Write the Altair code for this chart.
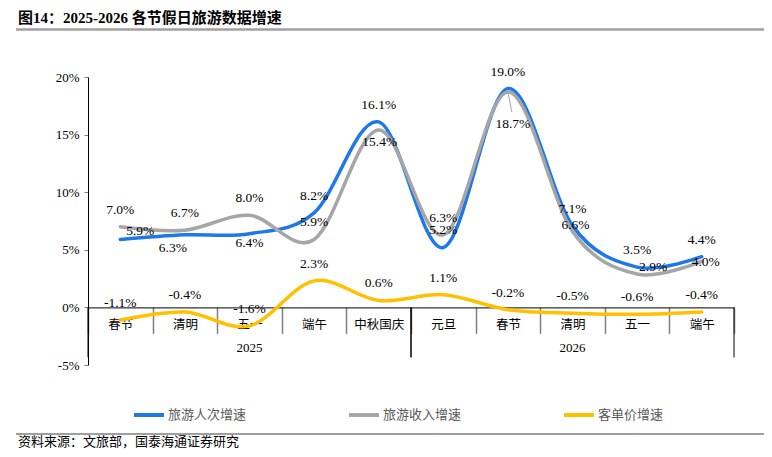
import altair as alt
import pandas as pd

# ---- data ----
years = ["2025", "2026"]
cats_2025 = ["春节", "清明", "五一", "端午", "中秋国庆"]
cats_2026 = ["元旦", "春节", "清明", "五一", "端午"]
series_names = ["旅游人次增速", "旅游收入增速", "客单价增速"]
trips = [5.9, 6.3, 6.4, 8.2, 16.1, 5.2, 19.0, 7.1, 3.5, 4.4]
revenue = [7.0, 6.7, 8.0, 5.9, 15.4, 6.3, 18.7, 6.6, 2.9, 4.0]
per_cap = [-1.1, -0.4, -1.6, 2.3, 0.6, 1.1, -0.2, -0.5, -0.6, -0.4]
y_ticks = [-5, 0, 5, 10, 15, 20]
title_text = "图14：2025-2026 各节假日旅游数据增速"
source_text = "资料来源：文旅部，国泰海通证券研究"

colors = ["#1E78E6", "#A6A6A6", "#FFC000"]
NUM_FONT = "Liberation Serif, Noto Sans CJK SC"
CJK_FONT = "Liberation Serif, Noto Sans CJK SC"

groups = {"2025": cats_2025, "2026": cats_2026}
keys = [y + c for y in years for c in groups[y]]

W, H = 646, 288
PX = H / (y_ticks[-1] - y_ticks[0])  # pixels per percentage point

rows = []
for s, vals in zip(series_names, [trips, revenue, per_cap]):
    for i, (k, v) in enumerate(zip(keys, vals)):
        rows.append({"key": k, "series": s, "value": v, "idx": i,
                     "label": f"{v:.1f}%"})
df = pd.DataFrame(rows)

xscale = alt.Scale(type="band", domain=keys, paddingInner=0, paddingOuter=0)
yscale = alt.Scale(domain=[y_ticks[0], y_ticks[-1]], nice=False, zero=False)
cscale = alt.Scale(domain=series_names, range=colors)

legend = alt.Legend(
    title=None, orient="none", legendX=44, legendY=321, direction="horizontal",
    symbolType="stroke", symbolSize=900, symbolStrokeWidth=4,
    labelFont=CJK_FONT, labelFontSize=13, labelColor="#595959",
    labelOffset=2, columnPadding=94, padding=0, labelLimit=200,
)

xaxis = alt.Axis(
    title=None, orient="bottom", offset=-(H * (0 - y_ticks[0]) / (y_ticks[-1] - y_ticks[0])),
    domainColor="black", domainWidth=1, tickBand="extent", tickSize=26,
    tickColor="#7F7F7F", tickWidth=1.5, labelAngle=0, labelPadding=-15,
    labelFont=CJK_FONT, labelFontSize=12.5, labelColor="black",
    labelExpr="substring(datum.label, 4)", grid=False,
)
yaxis = alt.Axis(
    title=None, values=y_ticks, labelExpr="datum.value + '%'",
    domainColor="black", domainWidth=1, tickColor="#7F7F7F", tickSize=4,
    labelFont=NUM_FONT, labelFontSize=13, labelColor="black",
    labelPadding=5, grid=False,
)

layers = []
for s in series_names:
    layers.append(
        alt.Chart(df[df.series == s]).mark_line(
            interpolate="cardinal", strokeWidth=3.5, strokeCap="round"
        ).encode(
            x=alt.X("key:N", scale=xscale, axis=xaxis),
            y=alt.Y("value:Q", scale=yscale, axis=yaxis),
            color=alt.Color("series:N", scale=cscale, legend=legend),
        )
    )

# label placement nudges (dx, dy) in pixels; default sits above the point
nudges = {
    (series_names[0], 0): (20, -8),
    (series_names[0], 1): (-12, 13),
    (series_names[0], 2): (0, 9),
    (series_names[1], 4): (1, 12),
    (series_names[1], 6): (5, 32),
    (series_names[1], 7): (3, -6),
    (series_names[1], 8): (16, -7),
    (series_names[1], 9): (4, 1),
}
mask = pd.Series(False, index=df.index)
for (s, i), (dx, dy) in nudges.items():
    m = (df.series == s) & (df.idx == i)
    mask |= m
    layers.append(
        alt.Chart(df[m]).mark_text(
            font=NUM_FONT, fontSize=13.5, color="black", dx=dx, dy=dy,
            baseline="middle"
        ).encode(x=alt.X("key:N", scale=xscale), y=alt.Y("value:Q", scale=yscale),
                 text="label:N")
    )
layers.append(
    alt.Chart(df[~mask]).mark_text(
        font=NUM_FONT, fontSize=13.5, color="black", dy=-17, baseline="middle"
    ).encode(x=alt.X("key:N", scale=xscale), y=alt.Y("value:Q", scale=yscale),
             text="label:N")
)

# leader line for the 18.7% label
lead = df[(df.series == series_names[1]) & (df.idx == 6)].copy()
lead["value2"] = lead["value"] - 20 / PX
layers.append(
    alt.Chart(lead).mark_rule(color="#A6A6A6", strokeWidth=1, x2Offset=4).encode(
        x=alt.X("key:N", scale=xscale), x2="key:N",
        y=alt.Y("value:Q", scale=yscale), y2="value2:Q",
    )
)

# multi-level category axis: group dividers and year labels
gdf = pd.DataFrame({
    "year": years,
    "start": [y + groups[y][0] for y in years],
    "end": [y + groups[y][-1] for y in years],
    "mid": [y + groups[y][len(groups[y]) // 2] for y in years],
})
low = -50 / PX
for fld, bp in [("start", 0), ("end", 1)]:
    layers.append(
        alt.Chart(gdf).mark_rule(color="black", strokeWidth=1).encode(
            x=alt.X(f"{fld}:N", scale=xscale, bandPosition=bp),
            y=alt.datum(0), y2=alt.datum(low),
        )
    )
layers.append(
    alt.Chart(gdf).mark_text(font=NUM_FONT, fontSize=13, color="black",
                             dy=41, baseline="middle").encode(
        x=alt.X("mid:N", scale=xscale), y=alt.datum(0), text="year:N"
    )
)

# title, separator lines and source note
layers.append(
    alt.Chart(pd.DataFrame({"t": [title_text]})).mark_text(
        font=CJK_FONT, fontSize=15, fontWeight="bold", color="black",
        align="left", baseline="middle"
    ).encode(x=alt.value(-70), y=alt.value(-59), text="t:N")
)
layers.append(
    alt.Chart(pd.DataFrame({"t": [source_text]})).mark_text(
        font=CJK_FONT, fontSize=13, color="black", align="left", baseline="alphabetic"
    ).encode(x=alt.value(-70), y=alt.value(369), text="t:N")
)
layers.append(
    alt.Chart(pd.DataFrame({"t": [0]})).mark_rule(color="#A0A0A0", strokeWidth=2.5).encode(
        x=alt.value(-72), x2=alt.value(677), y=alt.value(-47.5)
    )
)
layers.append(
    alt.Chart(pd.DataFrame({"t": [0]})).mark_rule(color="#7F7F7F", strokeWidth=1.5).encode(
        x=alt.value(-72), x2=alt.value(677), y=alt.value(357)
    )
)

chart = alt.layer(*layers).properties(
    width=W, height=H,
    autosize=alt.AutoSizeParams(type="none"),
    padding={"left": 80, "top": 69, "right": 30, "bottom": 84},
).configure_view(stroke=None).configure_axis(grid=False)

chart.save("out.html", embed_options={"renderer": "svg", "actions": False})
